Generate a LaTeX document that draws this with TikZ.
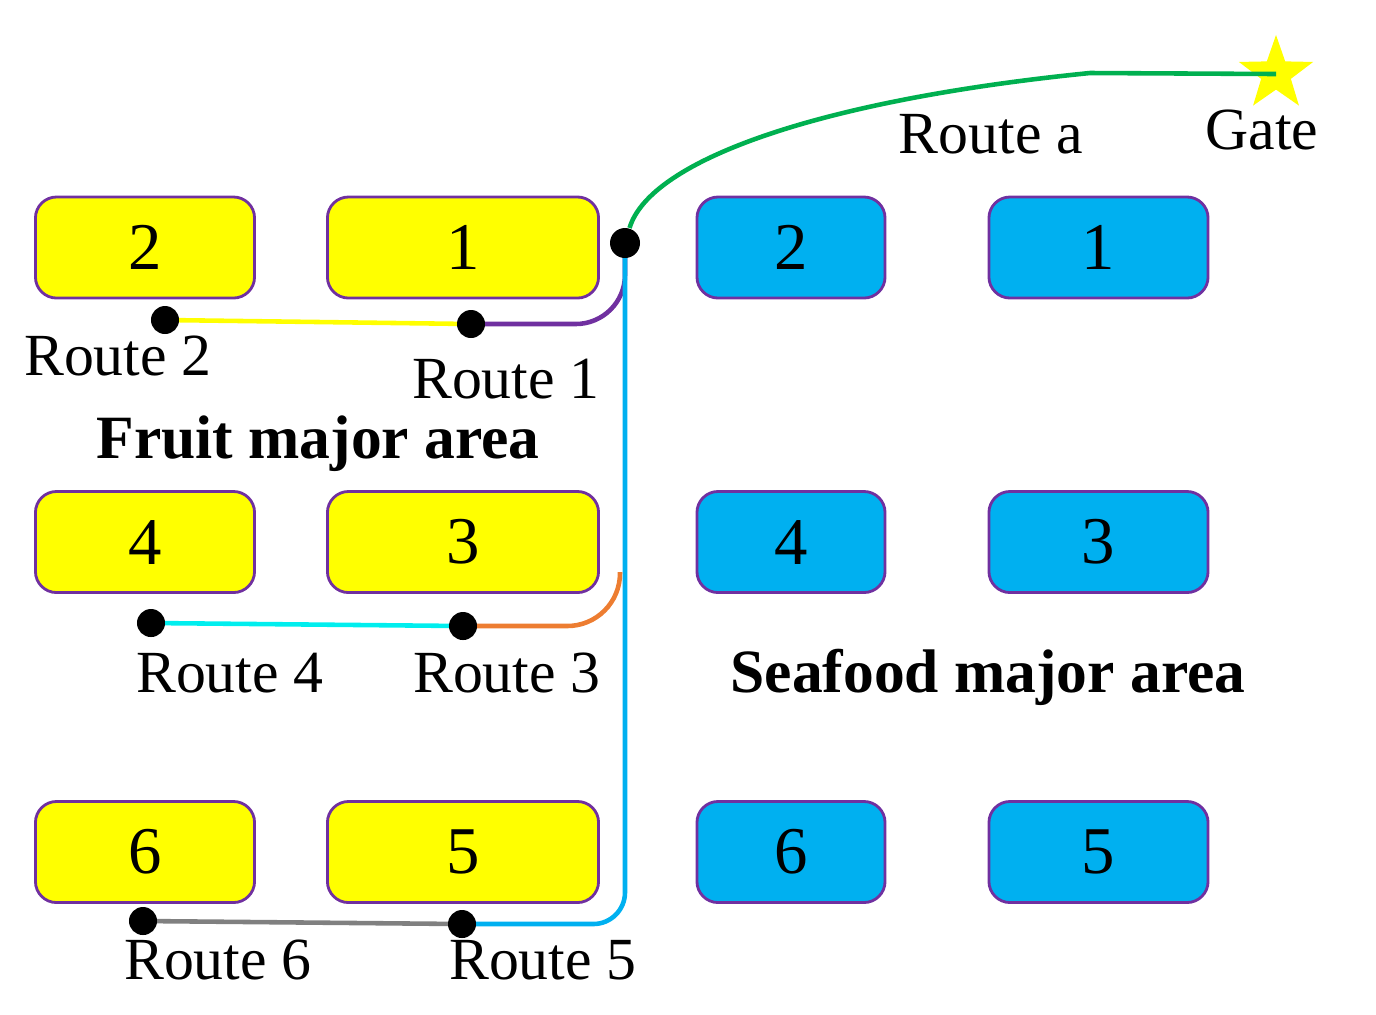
\documentclass[tikz,border=0pt]{standalone}
\usepackage{fontspec}
\setmainfont{Liberation Serif}
\usetikzlibrary{shapes.geometric,backgrounds}
\definecolor{fruit}{RGB}{255,255,0}
\definecolor{sea}{RGB}{0,176,240}
\definecolor{rim}{RGB}{112,48,160}
\definecolor{routea}{RGB}{0,176,80}
\definecolor{routeone}{RGB}{112,48,160}
\definecolor{routethree}{RGB}{237,125,49}
\definecolor{routefour}{RGB}{0,238,238}
\definecolor{routesix}{RGB}{128,128,128}
\tikzset{
  box/.style={draw=rim,line width=0.8pt,rounded corners=6pt,minimum height=1.01cm,inner sep=0pt,font=\fontsize{19}{19}\selectfont},
  fruitbox/.style={box,fill=fruit},
  seabox/.style={box,fill=sea},
  stopdot/.style={circle,fill=black,minimum size=0.28cm,inner sep=0pt},
  route/.style={line width=1.3pt},
  lab/.style={font=\fontsize{17}{17}\selectfont,anchor=base,inner sep=0pt},
  area/.style={font=\fontsize{17.5}{17.5}\selectfont\bfseries,anchor=base,inner sep=0pt},
}
\begin{document}
\begin{tikzpicture}[x=0.01cm,y=-0.01cm]
\useasboundingbox (0,0) rectangle (1376,1014);
% stalls, one row at a time
\foreach \y/\a/\b in {247.5/2/1,542/4/3,852/6/5}{
  \node[fruitbox,minimum width=2.19cm] (f\a) at (145,\y) {\a};
  \node[fruitbox,minimum width=2.71cm] (f\b) at (463,\y) {\b};
  \node[seabox,minimum width=1.88cm] (s\a) at (791,\y) {\a};
  \node[seabox,minimum width=2.19cm] (s\b) at (1098.5,\y) {\b};
}
% stops
\node[stopdot] (r2) at (165,320) {};
\node[stopdot] (r1) at (471,324) {};
\node[stopdot] (r4) at (151,623) {};
\node[stopdot] (r3) at (463,626) {};
\node[stopdot] (r6) at (143,921) {};
\node[stopdot] (r5) at (462,924) {};
\node[stopdot,minimum size=0.3cm] (jn) at (625,243) {};
\node[star,star points=5,star point ratio=2.5,fill=fruit,minimum size=0.78cm,inner sep=0pt] (gate) at (1276,74) {};
\coordinate (o3) at (620,572);
\begin{scope}[on background layer]
\draw[route,fruit] (r2.center) -- (r1.center);
\draw[route,routeone,rounded corners=14pt] (r1.center) -| (jn.center);
\draw[route,sea,rounded corners=9pt] (jn.center) |- (r5.center);
\draw[route,routethree,rounded corners=15pt] (r3.center) -| (o3);
\draw[route,routefour] (r4.center) -- (r3.center);
\draw[route,routesix] (r6.center) -- (r5.center);
\end{scope}
\draw[route,routea] (jn) .. controls (650,160) and (820,100) .. (1090,73) -- (gate.center);
% labels
\node[lab] (la) at (991,153) {Route a};
\node[lab] (lgate) at (1262,149) {Gate};
\node[lab] (l2) at (118,375) {Route 2};
\node[lab] (l1) at (506,398) {Route 1};
\node[area] (fruitarea) at (318,458) {Fruit major area};
\node[lab] (l4) at (230,692) {Route 4};
\node[lab] (l3) at (507,692) {Route 3};
\node[area] (seaarea) at (988,692) {Seafood major area};
\node[lab] (l6) at (218,979) {Route 6};
\node[lab] (l5) at (543,979) {Route 5};
\end{tikzpicture}
\end{document}
